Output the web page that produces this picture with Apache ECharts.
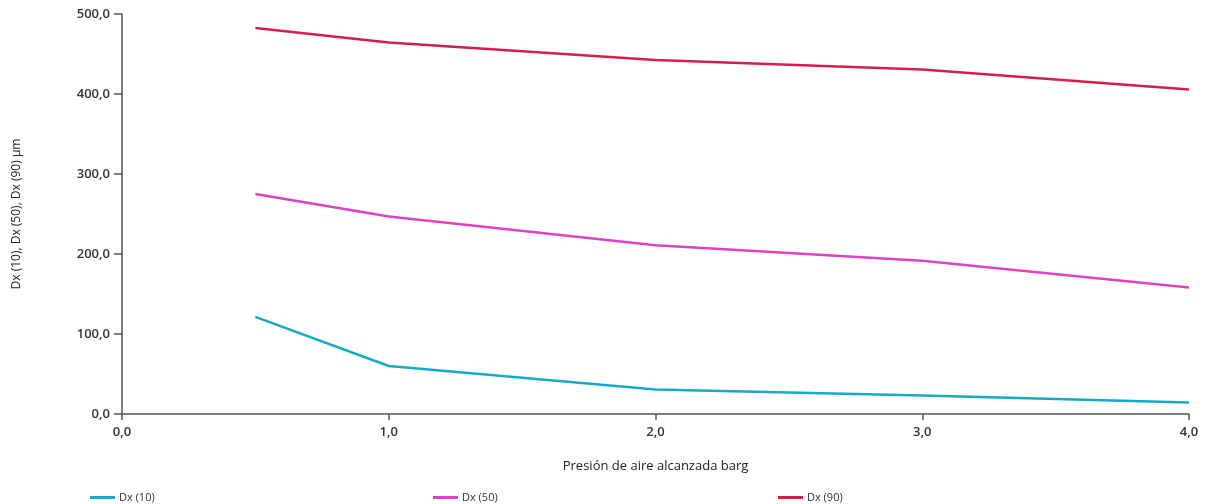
<!DOCTYPE html>
<html>
<head>
<meta charset="utf-8">
<script src="https://cdn.jsdelivr.net/npm/echarts@6/dist/echarts.min.js"></script>
<style>
  html, body { margin: 0; padding: 0; background: #fff; }
  #chart { width: 1207px; height: 504px; }
</style>
</head>
<body>
<div id="chart"></div>
<script>
// Air pressure reached (barg) at each measurement
const pressures = [0.5, 1.0, 2.0, 3.0, 4.0];
// Particle size percentiles in µm
const dx10 = [121.5, 60.0, 30.5, 23.0, 14.5];
const dx50 = [275.0, 247.0, 211.0, 191.5, 158.0];
const dx90 = [482.5, 464.5, 442.5, 430.5, 405.5];

const seriesNames = ['Dx (10)', 'Dx (50)', 'Dx (90)'];
const seriesColors = ['#15aac6', '#dc42c2', '#d41f48'];
const xAxisName = 'Presión de aire alcanzada barg';
const yAxisName = 'Dx (10), Dx (50), Dx (90) µm';

const fmt = v => v.toFixed(1).replace('.', ',');
const pairs = vals => pressures.map((p, i) => [p, vals[i]]);
const font = '"Open Sans", "Noto Sans", sans-serif';

const chart = echarts.init(document.getElementById('chart'), null, { renderer: 'canvas' });

const legendLefts = [85, 428, 773];

chart.setOption({
  animation: false,
  textStyle: { fontFamily: font },
  grid: { left: 122, right: 18, top: 14, bottom: 90, containLabel: false },
  legend: seriesNames.map((name, i) => ({
    data: [name],
    left: legendLefts[i],
    top: 487,
    icon: 'rect',
    itemWidth: 25,
    itemHeight: 3,
    itemGap: 4,
    textStyle: { fontSize: 11, color: '#333', fontFamily: font, padding: [0, 0, 0, -1] }
  })),
  xAxis: {
    type: 'value',
    min: 0,
    max: 4,
    interval: 1,
    name: xAxisName,
    nameLocation: 'middle',
    nameGap: 46,
    nameTextStyle: { fontSize: 13, color: '#222', fontFamily: font },
    axisLine: { show: true, lineStyle: { color: '#555', width: 1.5 } },
    axisTick: { show: true, length: 6, lineStyle: { color: '#555', width: 1.5 } },
    axisLabel: { formatter: fmt, fontSize: 13, color: '#333', margin: 12, fontWeight: 600 },
    splitLine: { show: false }
  },
  yAxis: {
    type: 'value',
    min: 0,
    max: 500,
    interval: 100,
    name: yAxisName,
    nameLocation: 'middle',
    nameGap: 99,
    nameTextStyle: { fontSize: 12, color: '#222', fontFamily: font },
    axisLine: { show: true, lineStyle: { color: '#555', width: 1.5 } },
    axisTick: { show: true, length: 8, lineStyle: { color: '#555', width: 1.5 } },
    axisLabel: { formatter: fmt, fontSize: 13, color: '#333', margin: 12, fontWeight: 600 },
    splitLine: { show: false }
  },
  series: [dx10, dx50, dx90].map((vals, i) => ({
    name: seriesNames[i],
    type: 'line',
    data: pairs(vals),
    showSymbol: false,
    symbol: 'none',
    itemStyle: { color: seriesColors[i] },
    lineStyle: { color: seriesColors[i], width: 2.5 }
  }))
});
</script>
</body>
</html>
